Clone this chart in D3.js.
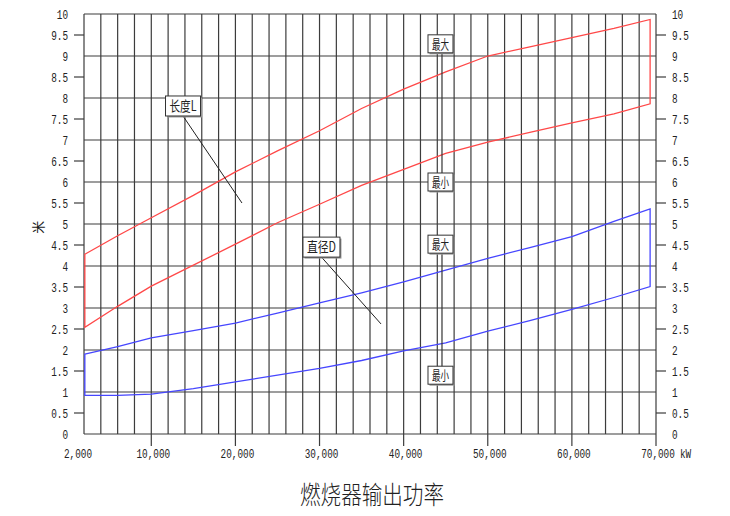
<!DOCTYPE html>
<html>
<head>
<meta charset="utf-8">
<script src="https://cdn.jsdelivr.net/npm/d3@7"></script>
<style>
  body { margin: 0; background: #fff; }
  svg { display: block; }
  .num { font-family: "Liberation Mono", "DejaVu Sans Mono", monospace; font-size: 13px; fill: #222; }
  .cjk { font-family: "Noto Sans CJK SC", sans-serif; fill: #222; }
</style>
</head>
<body>
<div id="chart"></div>
<script>
// puissance du bruleur (kW) et dimensions de flamme (m)
const power       = [2100, 6000, 10000, 15000, 20000, 25000, 30000, 35000, 40000, 45000, 50000, 55000, 60000, 65000, 69300];
const lengthMax   = [4.28, 4.72, 5.15, 5.68, 6.24, 6.74, 7.22, 7.75, 8.21, 8.62, 9.00, 9.22, 9.44, 9.66, 9.87];
const lengthMin   = [2.54, 3.04, 3.52, 4.02, 4.52, 5.03, 5.47, 5.92, 6.30, 6.68, 6.95, 7.18, 7.41, 7.62, 7.86];
const diameterMax = [1.90, 2.08, 2.29, 2.46, 2.64, 2.88, 3.12, 3.36, 3.62, 3.90, 4.18, 4.44, 4.70, 5.06, 5.36];
const diameterMin = [0.92, 0.92, 0.95, 1.08, 1.24, 1.40, 1.56, 1.75, 1.98, 2.17, 2.45, 2.70, 2.97, 3.25, 3.51];

const xLabels = [2000, 10000, 20000, 30000, 40000, 50000, 60000, 70000];
const yTicks  = [0, 0.5, 1, 1.5, 2, 2.5, 3, 3.5, 4, 4.5, 5, 5.5, 6, 6.5, 7, 7.5, 8, 8.5, 9, 9.5, 10];

// etiquettes (position en unites du graphique)
const notes = [
  { text: "长度L", x: 13770, y: 7.81, w: 35, tx: 20780, ty: 5.5 },
  { text: "直径D", x: 30230, y: 4.45, w: 37, tx: 37310, ty: 2.62 }
];
const rangeBoxes = [
  { top: 9.29, bottom: 6.0 },
  { top: 4.52, bottom: 1.40 }
];
const rangeX = 44380;

const W = 730, H = 516;
const svg = d3.select("#chart").append("svg").attr("width", W).attr("height", H);

const x = d3.scaleLinear().domain([2000, 70000]).range([84, 656]);
const y = d3.scaleLinear().domain([0, 10]).range([434, 14]);

const gridColor = "#3c3c3c";

// grille verticale tous les 2000 kW
const xGrid = d3.range(2000, 70001, 2000);
svg.append("g").selectAll("line").data(xGrid).join("line")
  .attr("x1", d => x(d)).attr("x2", d => x(d))
  .attr("y1", y(10))
  .attr("y2", d => (d % 10000 == 0 ? y(0) + 12 : y(0)))
  .attr("stroke", gridColor).attr("stroke-width", 1.2);

// grille horizontale (entiers) + petits traits aux demis
svg.append("g").selectAll("line").data(yTicks.filter(d => d % 1 == 0)).join("line")
  .attr("x1", x(2000)).attr("x2", x(70000))
  .attr("y1", d => y(d)).attr("y2", d => y(d))
  .attr("stroke", gridColor).attr("stroke-width", 1.2);

const halfs = yTicks.filter(d => d % 1 != 0);
svg.append("g").selectAll("line").data(halfs).join("line")
  .attr("x1", x(2000) - 10).attr("x2", x(2000))
  .attr("y1", d => y(d)).attr("y2", d => y(d))
  .attr("stroke", gridColor).attr("stroke-width", 1.2);
svg.append("g").selectAll("line").data(halfs).join("line")
  .attr("x1", x(70000)).attr("x2", x(70000) + 10)
  .attr("y1", d => y(d)).attr("y2", d => y(d))
  .attr("stroke", gridColor).attr("stroke-width", 1.2);

// libelles des axes (police etroite : on compresse en largeur)
const squeeze = 0.72;
const fmtY = d => String(d);
const fmtX = d3.format(",");
svg.append("g").selectAll("text").data(yTicks).join("text")
  .attr("class", "num")
  .attr("transform", d => "translate(68," + (y(d) + 5) + ") scale(" + squeeze + ",1)")
  .attr("text-anchor", "end")
  .text(fmtY);
svg.append("g").selectAll("text").data(yTicks).join("text")
  .attr("class", "num")
  .attr("transform", d => "translate(672," + (y(d) + 5) + ") scale(" + squeeze + ",1)")
  .text(fmtY);
svg.append("g").selectAll("text").data(xLabels).join("text")
  .attr("class", "num")
  .attr("transform", d => "translate(" + (d == 2000 ? x(d) - 6 : x(d) + 2) + ",458) scale(" + squeeze + ",1)")
  .attr("text-anchor", "middle")
  .text(fmtX);
svg.append("text").attr("class", "num")
  .attr("transform", "translate(680,458) scale(" + squeeze + ",1)")
  .text("kW");

svg.append("text").attr("class", "cjk")
  .attr("transform", "translate(43," + y(4.92) + ") rotate(-90)")
  .attr("text-anchor", "middle")
  .style("font-size", "13px")
  .text("米");

svg.append("text").attr("class", "cjk")
  .attr("x", 372).attr("y", 504)
  .attr("text-anchor", "middle")
  .attr("textLength", 144).attr("lengthAdjust", "spacingAndGlyphs")
  .style("font-size", "25px").style("font-weight", 300)
  .text("燃烧器输出功率");

// zones min / max : haut, trait vertical, bas a l'envers, fermeture
function zone(hi, lo) {
  const pts = power.map((p, i) => [p, hi[i]]);
  for (let i = power.length - 1; i >= 0; i--) pts.push([power[i], lo[i]]);
  return d3.line().x(d => x(d[0])).y(d => y(d[1]))(pts) + "Z";
}
svg.append("path").attr("d", zone(lengthMax, lengthMin))
  .attr("fill", "none").attr("stroke", "#ff4848").attr("stroke-width", 1.3);
svg.append("path").attr("d", zone(diameterMax, diameterMin))
  .attr("fill", "none").attr("stroke", "#4646ff").attr("stroke-width", 1.3);

// petite boite avec ombre
function box(cx, cy, w, h, label, size) {
  const g = svg.append("g");
  g.append("rect").attr("x", cx - w / 2 + 1.5).attr("y", cy - h / 2 + 1.5)
    .attr("width", w).attr("height", h).attr("fill", "#999");
  g.append("rect").attr("x", cx - w / 2).attr("y", cy - h / 2)
    .attr("width", w).attr("height", h)
    .attr("fill", "#fff").attr("stroke", "#333").attr("stroke-width", 1);
  g.append("text").attr("class", "cjk")
    .attr("x", cx).attr("y", cy + 5)
    .attr("text-anchor", "middle")
    .attr("textLength", w - 8).attr("lengthAdjust", "spacingAndGlyphs")
    .style("font-size", size + "px")
    .text(label);
}

notes.forEach(n => {
  svg.append("line")
    .attr("x1", x(n.x)).attr("y1", y(n.y) + 10)
    .attr("x2", x(n.tx)).attr("y2", y(n.ty))
    .attr("stroke", "#222").attr("stroke-width", 1);
  box(x(n.x), y(n.y), n.w, 20, n.text, 14);
});

rangeBoxes.forEach(r => {
  svg.append("line")
    .attr("x1", x(rangeX) + 1.5).attr("x2", x(rangeX) + 1.5)
    .attr("y1", y(r.top)).attr("y2", y(r.bottom))
    .attr("stroke", "#333").attr("stroke-width", 1.2);
  box(x(rangeX), y(r.top), 25, 18, "最大", 13);
  box(x(rangeX), y(r.bottom), 25, 18, "最小", 13);
});
</script>
</body>
</html>
